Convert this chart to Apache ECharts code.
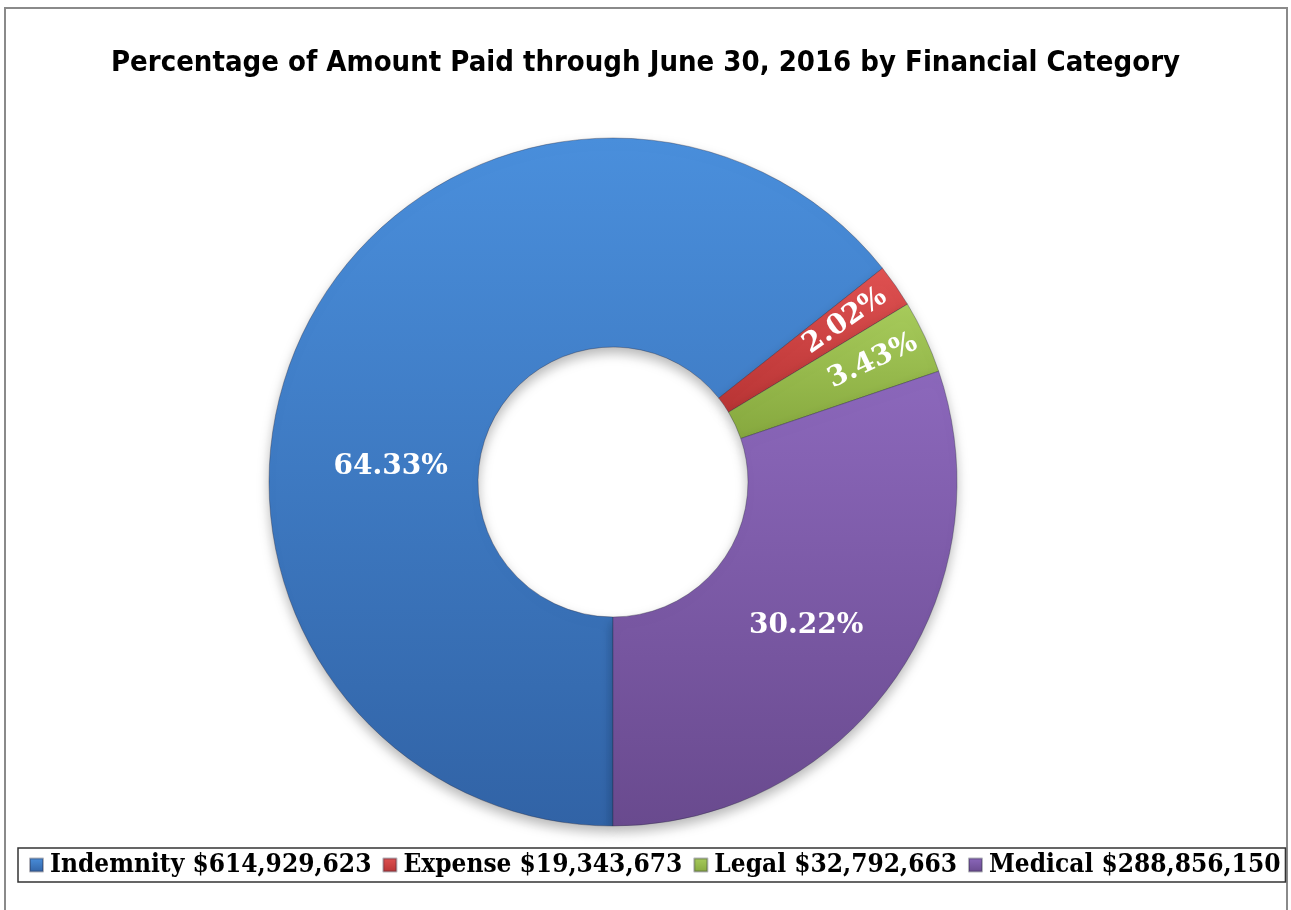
<!DOCTYPE html>
<html>
<head>
<meta charset="utf-8">
<script src="https://cdn.jsdelivr.net/npm/echarts@6/dist/echarts.min.js"></script>
<style>
  html, body { margin: 0; padding: 0; background: #fff; }
  #chart { width: 1291px; height: 910px; }
</style>
</head>
<body>
<div id="chart"></div>
<script>
// data
const categories = ['Indemnity', 'Expense', 'Legal', 'Medical'];
const amounts = [614929623, 19343673, 32792663, 288856150];
const topColors = ['#4a8fdc', '#e05252', '#a8cc5c', '#8c68bc'];
const bottomColors = ['#3163a6', '#b83434', '#86a83e', '#694a8e'];

const total = amounts.reduce((s, v) => s + v, 0);
const fmtMoney = v => '$' + v.toLocaleString('en-US');
const legendNames = categories.map((c, i) => c + ' ' + fmtMoney(amounts[i]));

// label tweaks (Excel moved the big label, pushed the thin ones outward)
const labelTweaks = {
    Indemnity: { offset: [-4, 90] },
    Expense: { rotate: 'radial', offset: [40, 0] },
    Legal: { rotate: 'radial', offset: [44, 0] },
    Medical: { offset: [-4, 3] }
};

const grad = i => ({
    type: 'linear', x: 0, y: 0, x2: 0, y2: 1,
    colorStops: [
        { offset: 0, color: topColors[i] },
        { offset: 1, color: bottomColors[i] }
    ]
});

const pieData = categories.map((c, i) => ({
    name: legendNames[i],
    value: amounts[i],
    itemStyle: { color: grad(i) },
    label: labelTweaks[c]
}));

var chart = echarts.init(document.getElementById('chart'));
var option = {
    backgroundColor: '#fff',
    animation: false,
    title: {
        text: 'Percentage of Amount Paid through June 30, 2016 by Financial Category',
        left: 'center',
        top: 44,
        textStyle: {
            fontFamily: 'DejaVu Sans Condensed',
            fontWeight: 'bold',
            fontSize: 29,
            color: '#000'
        }
    },
    graphic: [{
        type: 'rect',
        shape: { x: 5, y: 8, width: 1282, height: 920 },
        style: { fill: 'none', stroke: '#8a8a8a', lineWidth: 2 },
        silent: true
    }],
    legend: {
        left: 18,
        top: 848,
        width: 1270,
        orient: 'horizontal',
        itemGap: 11,
        itemWidth: 13,
        itemHeight: 13,
        icon: 'rect',
        padding: [4, 5, 4, 11],
        borderColor: '#333',
        borderWidth: 1.5,
        textStyle: {
            fontFamily: 'DejaVu Serif Condensed',
            fontWeight: 'bold',
            fontSize: 26,
            color: '#000',
            padding: [0, 0, 0, 2]
        },
        data: legendNames
    },
    series: [{
        type: 'pie',
        center: [613, 482],
        radius: [135, 344],
        startAngle: -90,
        clockwise: true,
        avoidLabelOverlap: false,
        itemStyle: {
            borderColor: 'rgba(40,40,60,0.35)',
            borderWidth: 1,
            shadowBlur: 12,
            shadowColor: 'rgba(0,0,0,0.28)',
            shadowOffsetY: 6
        },
        label: {
            position: 'inside',
            formatter: p => (p.value / total * 100).toFixed(2) + '%',
            fontFamily: 'DejaVu Serif',
            fontWeight: 'bold',
            fontSize: 28,
            color: '#fff'
        },
        labelLine: { show: false },
        emphasis: { disabled: true },
        data: pieData
    }]
};
chart.setOption(option);
</script>
</body>
</html>
